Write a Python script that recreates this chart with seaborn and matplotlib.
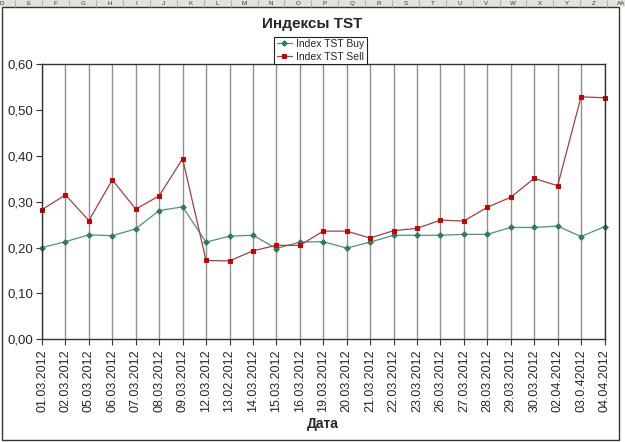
"""
Индексы TST - Excel style line chart (buy / sell index by date)
"""
import pandas as pd
import numpy as np
import matplotlib.pyplot as plt
import seaborn as sns
from matplotlib.patches import Rectangle
from matplotlib.ticker import FuncFormatter

sns.set_style("white")
plt.rcParams['font.family'] = ['Liberation Sans', 'DejaVu Sans']

# Data
dates = ['01.03.2012', '02.03.2012', '05.03.2012', '06.03.2012', '07.03.2012',
         '08.03.2012', '09.03.2012', '12.03.2012', '13.02.2012', '14.03.2012',
         '15.03.2012', '16.03.2012', '19.03.2012', '20.03.2012', '21.03.2012',
         '22.03.2012', '23.03.2012', '26.03.2012', '27.03.2012', '28.03.2012',
         '29.03.2012', '30.03.2012', '02.04.2012', '03.0.42012', '04.04.2012']
buy = [0.200, 0.213, 0.228, 0.226, 0.241, 0.281, 0.289, 0.212, 0.225, 0.227,
       0.198, 0.212, 0.213, 0.199, 0.212, 0.227, 0.227, 0.227, 0.229, 0.229,
       0.244, 0.244, 0.247, 0.224, 0.246]
sell = [0.283, 0.315, 0.259, 0.348, 0.284, 0.313, 0.394, 0.172, 0.171, 0.193,
        0.205, 0.205, 0.236, 0.236, 0.221, 0.237, 0.242, 0.260, 0.258, 0.288,
        0.310, 0.351, 0.335, 0.529, 0.527]
sheet_cols = ['D', 'E', 'F', 'G', 'H', 'I', 'J', 'K', 'L', 'M', 'N', 'O', 'P',
              'Q', 'R', 'S', 'T', 'U', 'V', 'W', 'X', 'Y', 'Z', 'AA']

df = pd.DataFrame({'idx': np.arange(len(dates)), 'date': dates,
                   'buy': buy, 'sell': sell})

W, H = 625, 442
fig = plt.figure(figsize=(W / 100, H / 100), dpi=100)
fig.patch.set_facecolor('white')

# Spreadsheet header strip with column letters
fig.add_artist(Rectangle((0, 1 - 7 / H), 1, 7 / H, transform=fig.transFigure,
                         facecolor='#e4e2dc', edgecolor='none', zorder=0))
for k, col in enumerate(sheet_cols):
    cx = 2 + k * 26.9
    fig.text(cx / W, 1 - 3.5 / H, col, fontsize=4.5, ha='center', va='center',
             color='#333333')
    fig.add_artist(plt.Line2D([(cx + 13.4) / W] * 2, [1 - 7 / H, 1],
                              transform=fig.transFigure, color='#a0a0a0', lw=0.5))

# Chart area border
fig.add_artist(Rectangle((2 / W, 1 - 440 / H), 617 / W, 433 / H,
                         transform=fig.transFigure, facecolor='white',
                         edgecolor='#333333', lw=1, zorder=1))

ax = fig.add_axes([42 / W, 1 - 339.3 / H, 562.5 / W, 275 / H])
ax.set_zorder(2)

sns.lineplot(data=df, x='idx', y='buy', ax=ax, color='#4a9478', lw=0.9,
             marker='D', markersize=2.8, markeredgecolor='#2e7d5b',
             markerfacecolor='#2e7d5b', label='Index TST Buy', clip_on=False)
sns.lineplot(data=df, x='idx', y='sell', ax=ax, color='#a04040', lw=0.9,
             marker='s', markersize=3.0, markeredgecolor='#cc0000',
             markerfacecolor='#cc0000', label='Index TST Sell', clip_on=False)

ax.set_xlim(0, len(dates) - 1)
ax.set_ylim(0, 0.6)
ax.set_xticks(df['idx'])
ax.set_xticklabels(df['date'], rotation=90, fontsize=9)
ax.set_yticks(np.arange(0, 0.61, 0.1))
ax.yaxis.set_major_formatter(FuncFormatter(lambda v, p: f'{v:.2f}'.replace('.', ',')))
ax.tick_params(axis='y', labelsize=9.5, length=4, width=0.8, color='#333333', pad=2)
ax.tick_params(axis='x', length=4, width=0.8, color='#333333', pad=3)
ax.tick_params(left=True, bottom=True)

ax.grid(True, axis='x', color='#8f8f8f', lw=1)
ax.grid(False, axis='y')
for s in ax.spines.values():
    s.set_color('#333333')
    s.set_linewidth(1)

ax.set_xlabel('Дата', fontsize=10, fontweight='bold', labelpad=4)
ax.set_ylabel('')

fig.text(312 / W, 1 - 24 / H, 'Индексы TST', fontsize=11, fontweight='bold',
         ha='center', va='center')

leg = ax.legend(loc='upper center', bbox_to_anchor=(320.5 / W, 1 - 36.5 / H),
                bbox_transform=fig.transFigure, fontsize=7.5, frameon=True,
                fancybox=False, edgecolor='#222222', framealpha=1,
                handlelength=1.4, handletextpad=0.4, labelspacing=0.25,
                borderpad=0.25, borderaxespad=0)
leg.get_frame().set_linewidth(0.8)

plt.savefig('out.png', dpi=100)
print("Saved: out.png")
